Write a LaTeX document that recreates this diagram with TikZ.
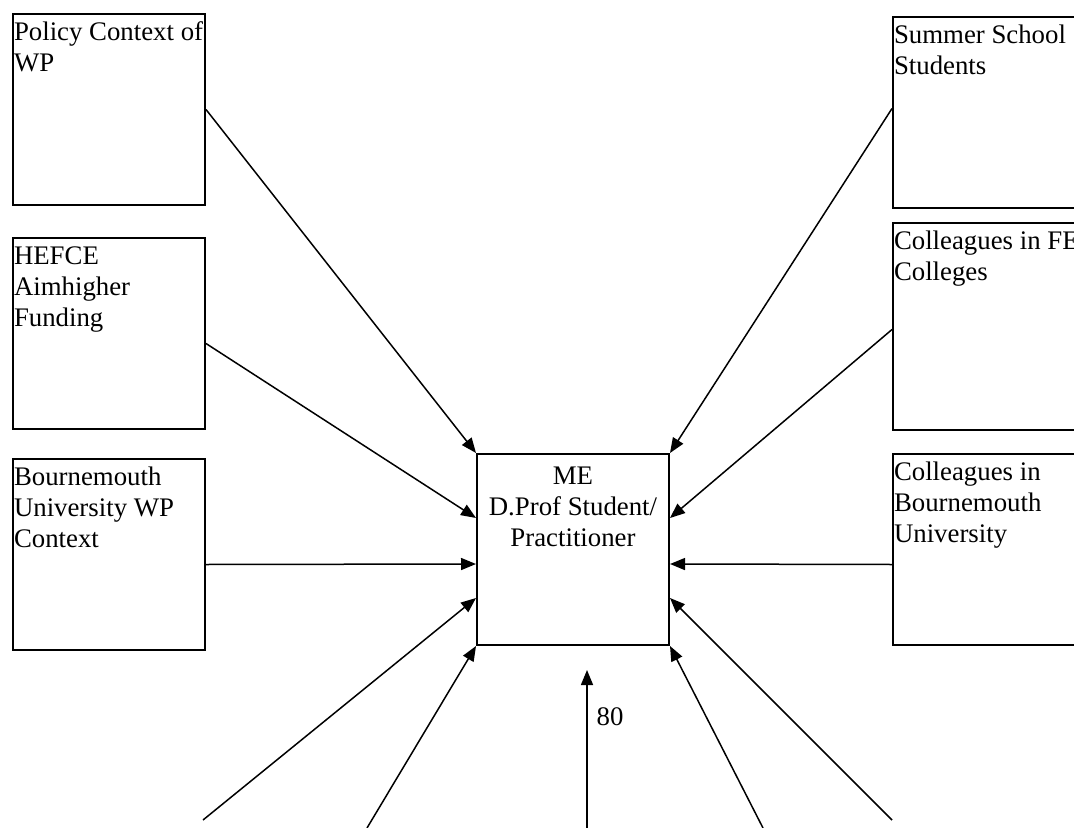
\documentclass[tikz,border=0pt]{standalone}
\usepackage{fontspec}
\setmainfont{Liberation Serif}
\usetikzlibrary{arrows.meta,calc}
\hbadness=10000 \hfuzz=20pt
\newcommand\bt[2][95.5pt]{\parbox[t][#1][t]{95pt}{\raggedright\rule{0pt}{13.3pt}#2}}
\begin{document}
\begin{tikzpicture}[x=0.5pt,y=-0.5pt,
  box/.style={draw, line width=1pt, inner xsep=0.5pt, inner ysep=0pt, anchor=north west},
  link/.style={line width=0.75pt, -{Triangle[length=7.5pt,width=6pt]}},
  font=\fontsize{13.4}{15.5}\selectfont]
\useasboundingbox (0,0) rectangle (1074,828);
\clip (0,0) rectangle (1074,828);

\node[box] (policy) at (12,13) {\bt{Policy Context of\\WP}};
\node[box] (hefce) at (12,237) {\bt{HEFCE\\Aimhigher\\Funding}};
\node[box] (bu) at (12,458) {\bt{Bournemouth\\University WP\\Context}};
\node[box] (summer) at (892,16) {\bt{Summer School\\Students}};
\node[box] (fe) at (892,222) {\bt[103.5pt]{Colleagues in FE\\Colleges}};
\node[box] (cbu) at (892,453) {\bt{Colleagues in\\Bournemouth\\University}};
\node[box] (me) at (476,453) {\parbox[t][95.5pt][t]{95pt}{\centering\rule{0pt}{15pt}ME\\D.Prof Student/\\Practitioner}};

\coordinate (b1) at (203,820);
\coordinate (b2) at (367,828);
\coordinate (b3) at (587,828);
\coordinate (b3t) at (587,670);
\coordinate (b4) at (763,828);
\coordinate (b5) at (892,820);

\draw[link] (policy.east) -- (me.north west);
\draw[link] ([yshift=-5pt]hefce.east) -- ($(me.north west)+(0,65)$);
\draw[link] ([yshift=-5pt]bu.east) -- ($(me.north west)+(0,111)$);
\draw[link] ([yshift=2pt]summer.west) -- (me.north east);
\draw[link] ([yshift=-1.5pt]fe.west) -- ($(me.north east)+(0,65)$);
\draw[link] ([yshift=-7.5pt]cbu.west) -- ($(me.north east)+(0,111)$);

\draw[link] (b1) -- ($(me.north west)+(0,145)$);
\draw[link] (b2) -- (me.south west);
\draw[link] (b3) -- (b3t);
\draw[link] (b4) -- (me.south east);
\draw[link] (b5) -- ($(me.north east)+(0,145)$);

\node (l80) at (610,717) {80};
\end{tikzpicture}
\end{document}
